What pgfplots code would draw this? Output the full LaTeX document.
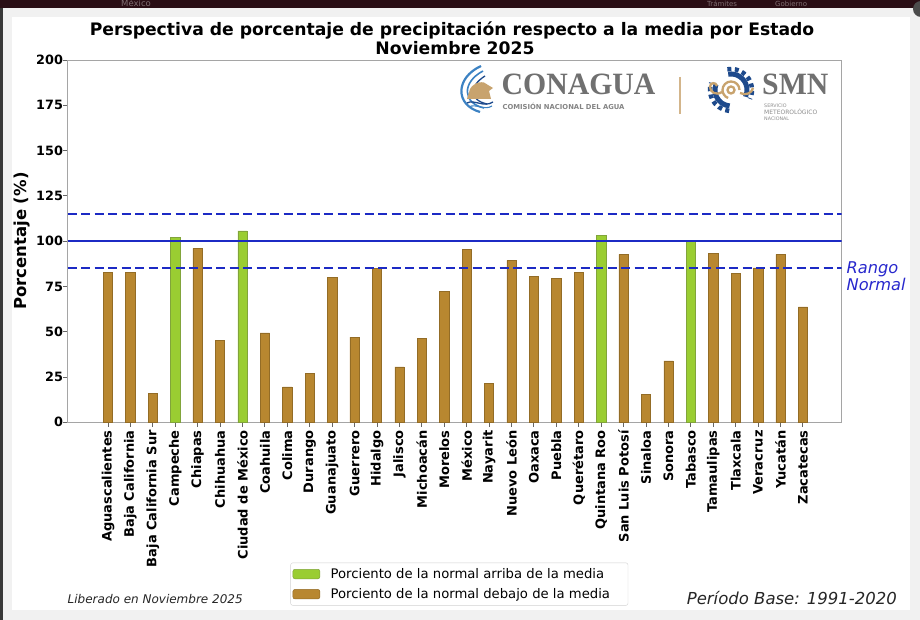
\documentclass[border=0pt]{standalone}
\usepackage{pgfplots}
\pgfplotsset{compat=1.18}
\usepackage{fontspec}
\setmainfont{DejaVu Sans}
\newfontfamily\logofont{Liberation Serif}
\definecolor{verde}{RGB}{154,205,50}
\definecolor{cafe}{RGB}{184,135,48}
\definecolor{linea}{RGB}{28,42,196}
\definecolor{rango}{RGB}{40,40,205}
\definecolor{spine}{RGB}{165,165,165}
\definecolor{logogray}{RGB}{112,112,112}
\definecolor{logotan}{RGB}{200,163,110}
\definecolor{logoblue}{RGB}{30,74,140}
\definecolor{logoblueb}{RGB}{60,130,195}
\definecolor{maroon}{RGB}{42,14,21}
\definecolor{bgout}{RGB}{241,241,241}
\newcommand\fs[1]{\fontsize{#1}{#1}\selectfont}

\pgfplotstableread{
x y
0 82.8
1 82.8
2 16.1
4 96.0
5 45.3
7 49.3
8 19.6
9 27.1
10 80.2
11 47.0
12 85.0
13 30.6
14 46.4
15 72.3
16 95.4
17 21.3
18 89.4
19 80.6
20 79.5
21 82.8
23 92.7
24 15.4
25 33.9
27 93.1
28 82.4
29 85.3
30 92.7
31 63.7
}\debajo
\pgfplotstableread{
x y
3 101.9
6 105.7
22 103.0
26 100.4
}\arriba

\begin{document}
\begin{tikzpicture}
\useasboundingbox (0,0) rectangle (920pt,620pt);
\begin{scope}[x=1pt,y=-1pt,yshift=620pt]
 \fill[bgout] (0,0) rectangle (920,620);
 \fill[white] (12,17) rectangle (910,610);
 \fill[maroon] (0,0) rectangle (920,8);
 \fill[black!78] (0,8) rectangle (3,620);
 \node[anchor=base west, font=\fs{8.5}, text=white!40!maroon, inner sep=0] at (121,7) {México};
 \node[anchor=base west, font=\fs{7}, text=white!40!maroon, inner sep=0] at (707,7) {Trámites};
 \node[anchor=base west, font=\fs{7}, text=white!40!maroon, inner sep=0] at (775,7) {Gobierno};
 \fill[black!70] (921,9) circle (8);
 % title
 \node[anchor=base, font=\fs{17.2}\bfseries, inner sep=0] at (452,36) {Perspectiva de porcentaje de precipitación respecto a la media por Estado};
 \node[anchor=base, font=\fs{17.2}\bfseries, inner sep=0] at (455,55) {Noviembre 2025};
 % CONAGUA logo
 \draw[logoblueb, line width=2.2] (481,66) .. controls (455,78) and (455,105) .. (480,112);
 \draw[logoblueb, line width=1.6] (483,71) .. controls (462,82) and (462,103) .. (484,108);
 \draw[logoblue, line width=1.3] (485,76) .. controls (469,86) and (469,100) .. (487,104);
 \fill[logotan] (467,99) -- (470,89) .. controls (474,82) and (484,80) .. (488,85) -- (493,88) -- (489,91) -- (491,99) -- cycle;
 \draw[logoblue, line width=1.3] (467,103) .. controls (474,99) and (484,108) .. (493,102);
 \draw[logoblueb, line width=1.1] (469,107) .. controls (476,103) and (484,111) .. (492,106);
 \node[anchor=base west, font=\logofont\fs{31}\bfseries, text=logogray, inner sep=0] at (501.5,94.3) {\scalebox{0.96}[1]{CONAGUA}};
 \node[anchor=base west, inner sep=0, text=logogray!85] at (502.3,110) {\resizebox{122pt}{!}{\fs{6}\bfseries COMISIÓN NACIONAL DEL AGUA}};
 \draw[logotan!80, line width=1.2] (680,77) -- (680,114);
 % SMN logo
 \draw[logoblue, line width=5] ([shift={(-100:16)}]731,90) arc (-100:25:16);
 \draw[logoblue, line width=4.5, dash pattern=on 4 off 3.5] ([shift={(-100:21)}]731,90) arc (-100:25:21);
 \draw[logoblue, line width=5] ([shift={(95:16)}]731,90) arc (95:200:16);
 \draw[logoblue, line width=4.5, dash pattern=on 4 off 3.5] ([shift={(95:21)}]731,90) arc (95:200:21);
 \draw[logotan, line width=2.3] (731,90) circle (3.5);
 \draw[logotan, line width=2.3] ([shift={(0:8.5)}]731,90) arc (0:-250:8.5);
 \draw[logotan, line width=2.3] (722,92) .. controls (716,96) and (710,92) .. (710,87) .. controls (710,82) and (716,82) .. (717,86);
 \draw[logotan, line width=2.3] (740,93) .. controls (746,96) and (752,93) .. (753,88);
 \node[anchor=base west, font=\logofont\fs{31}\bfseries, text=logogray, inner sep=0] at (762,94.3) {\scalebox{0.96}[1]{SMN}};
 \node[anchor=base west, font=\fs{4.8}, text=logogray!80, inner sep=0] at (764,108) {SERVICIO};
 \node[anchor=base west, inner sep=0, text=logogray!80] at (764,114.5) {\resizebox{53pt}{!}{\fs{4.8}METEOROLÓGICO}};
 \node[anchor=base west, font=\fs{4.8}, text=logogray!80, inner sep=0] at (764,120.5) {NACIONAL};
 % right annotation
 \node[anchor=base west, font=\fs{16.2}\itshape, text=rango, inner sep=0] at (846.5,273.3) {Rango};
 \node[anchor=base west, font=\fs{16.2}\itshape, text=rango, inner sep=0] at (846.5,291) {Normal};
 % footer
 \node[anchor=base west, font=\fs{12}\itshape, inner sep=0, text=black!85] at (67.5,604) {Liberado en Noviembre 2025};
 \node[anchor=base west, font=\fs{16.5}\itshape, inner sep=0, text=black!85] at (686.6,604.3) {Período Base: 1991-2020};
\end{scope}

\begin{axis}[
  at={(67.5pt,197.7pt)}, anchor=south west,
  scale only axis, width=774.2pt, height=362.3pt,
  xmin=-1.806, xmax=32.73, ymin=0, ymax=200,
  ytick={0,25,...,200},
  xtick={0,...,31},
  xticklabels={Aguascalientes,Baja California,Baja California Sur,Campeche,Chiapas,Chihuahua,Ciudad de México,Coahuila,Colima,Durango,Guanajuato,Guerrero,Hidalgo,Jalisco,Michoacán,Morelos,México,Nayarit,Nuevo León,Oaxaca,Puebla,Querétaro,Quintana Roo,San Luis Potosí,Sinaloa,Sonora,Tabasco,Tamaulipas,Tlaxcala,Veracruz,Yucatán,Zacatecas},
  axis line style={draw=spine, line width=0.9pt},
  tick style={draw=black!60, line width=0.9pt},
  major tick length=4.5pt, tick align=outside, tick pos=left,
  /pgf/number format/assume math mode=true,
  yticklabel style={font=\fs{12.8}\bfseries, xshift=3.5pt},
  xticklabel style={rotate=90, anchor=east, font=\fs{13}\bfseries},
  ylabel={Porcentaje (\%)},
  ylabel style={at={(axis description cs:-0.0582,0.5)}, anchor=center, font=\fs{16.5}\bfseries},
  ybar, bar width=0.416,
  legend style={at={(axis description cs:0.288,-0.3875)}, anchor=north west,
    draw=black!18, rounded corners=2pt, inner xsep=2pt, inner ysep=3.4pt,
    row sep=4.6pt, column sep=8.5pt, font=\fs{13.2}},
  legend cell align=left,
  legend image code/.code={\fill[#1] (0pt,-4.7pt) rectangle (27pt,4.7pt);},
]
\addplot[bar shift=0pt, fill=verde, draw=verde!75!black!90, line width=0.5pt] table[x=x,y=y] {\arriba};
\addlegendentry{Porciento de la normal arriba de la media\kern14pt}
\addplot[bar shift=0pt, fill=cafe, draw=cafe!80!black, line width=0.5pt] table[x=x,y=y] {\debajo};
\addlegendentry{Porciento de la normal debajo de la media\kern14pt}
\addplot[sharp plot, forget plot, linea, line width=2pt] coordinates {(-1.806,100) (32.73,100)};
\addplot[sharp plot, forget plot, linea, line width=2pt, dash pattern=on 9pt off 4.5pt] coordinates {(-1.806,85) (32.73,85)};
\addplot[sharp plot, forget plot, linea, line width=2pt, dash pattern=on 9pt off 4.5pt] coordinates {(-1.806,115) (32.73,115)};
\end{axis}
\end{tikzpicture}
\end{document}
